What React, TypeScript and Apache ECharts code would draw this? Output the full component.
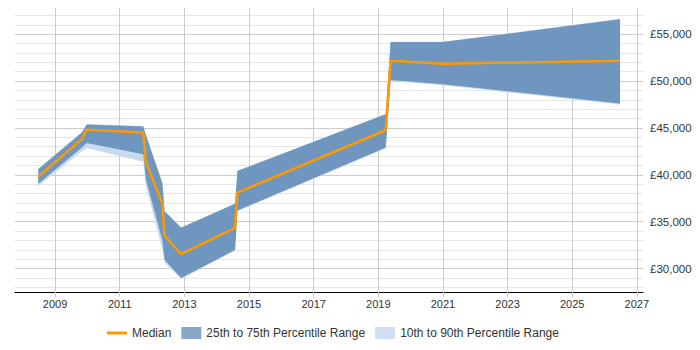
import React, { useEffect, useRef } from "react";
import * as echarts from "echarts";

const years = [2008.48, 2009.83, 2009.98, 2011.73, 2011.81, 2012.32, 2012.39, 2012.9, 2014.57, 2014.64, 2019.23, 2019.38, 2021.0, 2026.48];
const median = [39800, 43800, 44800, 44500, 41400, 36950, 33500, 31550, 34350, 38100, 44750, 52150, 51850, 52150];
const p75 = [40600, 44500, 45350, 45150, 44250, 39100, 36100, 34350, 36900, 40400, 46450, 54150, 54150, 56600];
const p25 = [39050, 42900, 43400, 42200, 39500, 33000, 30900, 29000, 32000, 36200, 42900, 50100, 49650, 47600];
const p90 = [40650, 44550, 45400, 45200, 44300, 39150, 36150, 34400, 36950, 40450, 46500, 54200, 54200, 56650];
const p10 = [38800, 42500, 42850, 41400, 38800, 32000, 30600, 28900, 31900, 36100, 42800, 50000, 49550, 47500];

const xTicks = [2009, 2011, 2013, 2015, 2017, 2019, 2021, 2023, 2025, 2027];
const yTicks = [30000, 35000, 40000, 45000, 50000, 55000];
const yMinor = [28000, 29000, 31000, 32000, 33000, 34000, 36000, 37000, 38000, 39000, 41000, 42000, 43000, 44000, 46000, 47000, 48000, 49000, 51000, 52000, 53000, 54000, 56000, 57000];

const bandPolygon = (upper: number[], lower: number[], fill: string) => (params: any, api: any) => {
  const pts: number[][] = [];
  for (let i = 0; i < years.length; i++) pts.push(api.coord([years[i], upper[i]]));
  for (let i = years.length - 1; i >= 0; i--) pts.push(api.coord([years[i], lower[i]]));
  return { type: "polygon", shape: { points: pts }, style: { fill } };
};

export default function App() {
  const ref = useRef<HTMLDivElement>(null);
  useEffect(() => {
    if (!ref.current) return;
    const chart = echarts.init(ref.current, null, { renderer: "svg" });
    const fmt = (v: number) => "£" + v.toLocaleString("en-GB");
    chart.setOption({
      animation: false,
      textStyle: { fontFamily: "Liberation Sans, Arial, sans-serif" },
      grid: { left: 15, right: 57, top: 6, bottom: 58 },
      xAxis: {
        type: "value",
        min: 2007.76,
        max: 2027.19,
        axisLine: { lineStyle: { color: "#000", width: 1 } },
        axisTick: { show: true, customValues: xTicks, length: 5, lineStyle: { color: "#ccc" } },
        axisLabel: { customValues: xTicks, formatter: (v: number) => String(v), color: "#333", fontSize: 11, margin: 6 },
        splitLine: { show: false },
      },
      yAxis: {
        type: "value",
        position: "right",
        min: 27500,
        max: 58000,
        axisLine: { show: false },
        axisTick: { show: false },
        axisLabel: { customValues: yTicks, formatter: fmt, color: "#333", fontSize: 11.5, margin: 7 },
        splitLine: { show: false },
      },
      legend: {
        bottom: 6,
        left: 102,
        itemWidth: 20,
        itemHeight: 12,
        itemGap: 10,
        textStyle: { color: "#333", fontSize: 12 },
        data: [
          { name: "Median", icon: "path://M0,0 L20,0 L20,3 L0,3 Z", itemStyle: { color: "#ff9900" } },
          { name: "25th to 75th Percentile Range", icon: "rect", itemStyle: { color: "#88a6c8" } },
          { name: "10th to 90th Percentile Range", icon: "rect", itemStyle: { color: "#cddff0" } },
        ],
      },
      series: [
        {
          type: "line",
          name: "grid",
          data: [],
          silent: true,
          z: 0,
          markLine: {
            silent: true,
            z: 0,
            symbol: ["none", "none"],
            label: { show: false },
            data: [
              ...yMinor.map((v) => ({ yAxis: v, lineStyle: { color: "#e6e6e6", width: 1, type: "solid" } })),
              ...yTicks.map((v) => ({ yAxis: v, lineStyle: { color: "#cccccc", width: 1, type: "solid" } })),
              ...xTicks.map((v) => ({ xAxis: v, lineStyle: { color: "#cccccc", width: 1, type: "solid" } })),
            ],
          },
        },
        {
          type: "custom",
          name: "10th to 90th Percentile Range",
          data: [0],
          z: 1,
          itemStyle: { color: "#cddff0" },
          renderItem: bandPolygon(p90, p10, "#c8daee"),
        },
        {
          type: "custom",
          name: "25th to 75th Percentile Range",
          data: [0],
          z: 2,
          itemStyle: { color: "#88a6c8" },
          renderItem: bandPolygon(p75, p25, "#6f96bf"),
        },
        {
          type: "line",
          name: "Median",
          z: 3,
          data: years.map((y, i) => [y, median[i]]),
          showSymbol: false,
          symbol: "none",
          itemStyle: { color: "#ff9900" },
          lineStyle: { color: "#ff9900", width: 2.5 },
        },
      ],
    });
    return () => chart.dispose();
  }, []);
  return <div ref={ref} style={{ width: 700, height: 350, margin: -8 }} />;
}
